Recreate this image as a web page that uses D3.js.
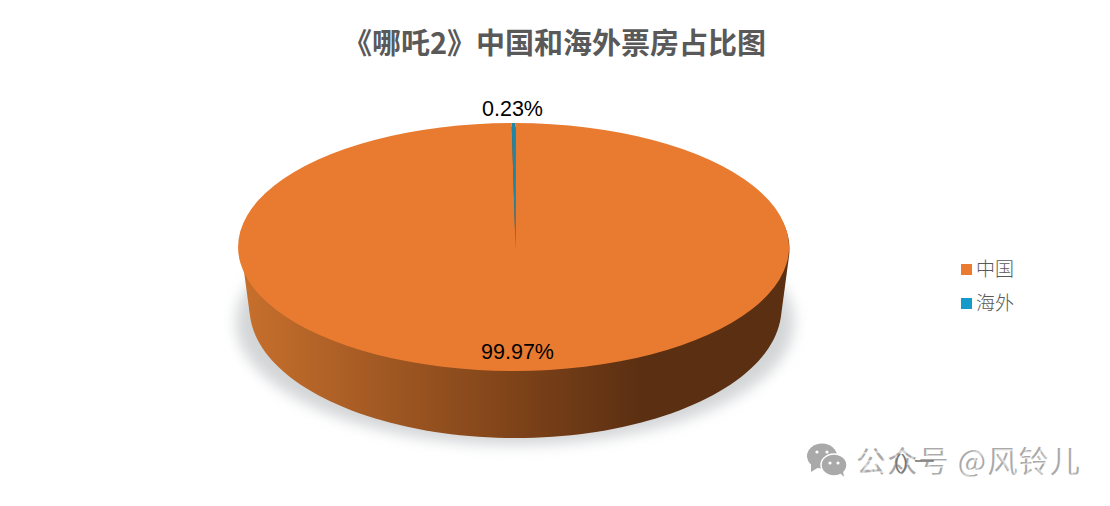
<!DOCTYPE html>
<html>
<head>
<meta charset="utf-8">
<script src="https://cdn.jsdelivr.net/npm/d3@7"></script>
<style>
  html, body { margin: 0; padding: 0; background: #fff; }
  svg { display: block; }
</style>
</head>
<body>
<div id="chart"></div>
<script>
const title = "《哪吒2》中国和海外票房占比图";
const categories = ["中国", "海外"];
const shares = [99.97, 0.23];
const shareLabels = ["99.97%", "0.23%"];
const colors = ["#e97b31", "#1f86a6"];
const legendColors = ["#ea7b31", "#159ac9"];

const width = 1110, height = 506;
const cjk = "'Noto Sans CJK SC', sans-serif";
const latin = "'Liberation Sans', Arial, sans-serif";

const svg = d3.select("#chart").append("svg")
    .attr("width", width)
    .attr("height", height);

const defs = svg.append("defs");

// side of the disc goes dark towards the right
const sideGrad = defs.append("linearGradient")
    .attr("id", "side")
    .attr("gradientUnits", "userSpaceOnUse")
    .attr("x1", 240).attr("x2", 790)
    .attr("y1", 0).attr("y2", 0);
sideGrad.append("stop").attr("offset", "0%").attr("stop-color", "#c8702d");
sideGrad.append("stop").attr("offset", "50%").attr("stop-color", "#7e4319");
sideGrad.append("stop").attr("offset", "73%").attr("stop-color", "#5b2f12");
sideGrad.append("stop").attr("offset", "100%").attr("stop-color", "#5b2f12");

defs.append("filter")
    .attr("id", "blur")
    .attr("x", "-10%").attr("y", "-10%")
    .attr("width", "120%").attr("height", "120%")
    .append("feGaussianBlur").attr("stdDeviation", 7);

// title
svg.append("text")
    .attr("x", 343).attr("y", 54)
    .attr("font-family", cjk)
    .attr("font-size", 29)
    .attr("font-weight", 700)
    .attr("fill", "#595959")
    .attr("textLength", 423)
    .text(title);

// top face and bottom rim of the disc
const top3d = {cx: 515.5, cy: 247, rx: 275.5, ry: 124};
const bottom3d = {cx: 515.5, cy: 308, rx: 266, ry: 130};

const rimPoints = e => d3.range(0, 360, 2).map(a => [
    e.cx + e.rx * Math.cos(a * Math.PI / 180),
    e.cy + e.ry * Math.sin(a * Math.PI / 180)
]);

svg.append("ellipse")
    .attr("cx", 515).attr("cy", 322)
    .attr("rx", 279).attr("ry", 123)
    .attr("fill", "#d3d5d7")
    .attr("filter", "url(#blur)");

// hull sits a little inside the top face so no dark line shows round it
const insetTop = {cx: top3d.cx, cy: top3d.cy + 2, rx: top3d.rx - 1.5, ry: top3d.ry - 2};
svg.append("path")
    .attr("d", "M" + d3.polygonHull(rimPoints(insetTop).concat(rimPoints(bottom3d))).join("L") + "Z")
    .attr("fill", "url(#side)");

const pie = d3.pie().sort(null)(shares);
const arc = d3.arc().innerRadius(0).outerRadius(1);

svg.append("g")
    .attr("transform", `translate(${top3d.cx},${top3d.cy}) scale(${top3d.rx},${top3d.ry})`)
    .selectAll("path")
    .data(pie)
    .join("path")
    .attr("d", arc)
    .attr("fill", (d, i) => colors[i]);

// data labels
const labelPos = [[517.5, 359], [512.5, 116]];
svg.append("g")
    .selectAll("text")
    .data(shareLabels)
    .join("text")
    .attr("x", (d, i) => labelPos[i][0])
    .attr("y", (d, i) => labelPos[i][1])
    .attr("text-anchor", "middle")
    .attr("font-family", latin)
    .attr("font-size", 21.5)
    .attr("fill", "#000")
    .text(d => d);

// legend
const legend = svg.append("g")
    .selectAll("g")
    .data(categories)
    .join("g")
    .attr("transform", (d, i) => `translate(961,${264 + i * 34})`);
legend.append("rect")
    .attr("width", 11).attr("height", 11)
    .attr("fill", (d, i) => legendColors[i]);
legend.append("text")
    .attr("x", 15).attr("y", 12)
    .attr("font-family", cjk)
    .attr("font-size", 19)
    .attr("font-weight", 300)
    .attr("fill", "#595959")
    .text(d => d);

// watermark
const mark = svg.append("g").attr("fill", "#a9a9a9");
mark.append("ellipse").attr("cx", 822).attr("cy", 456).attr("rx", 15).attr("ry", 12.5);
mark.append("path").attr("d", "M811,463L811,472L819,467Z");
mark.append("ellipse").attr("cx", 834).attr("cy", 465).attr("rx", 13).attr("ry", 11).attr("stroke", "#fff").attr("stroke-width", 1.5);
mark.append("path").attr("d", "M840,473L844,477L843,471Z");
mark.selectAll("circle")
    .data([[817, 452], [827, 452], [830, 463], [838, 463]])
    .join("circle")
    .attr("cx", d => d[0]).attr("cy", d => d[1]).attr("r", 1.6)
    .attr("fill", "#fff");

svg.append("text")
    .attr("x", 856).attr("y", 472)
    .attr("font-family", cjk)
    .attr("font-size", 30)
    .attr("fill", "#a9a9a9")
    .attr("textLength", 224)
    .text("公众号 @风铃儿");
// second, fainter pass of the watermark knocked out in white
svg.append("text")
    .attr("x", 858).attr("y", 473)
    .attr("font-family", cjk)
    .attr("font-size", 30)
    .attr("fill", "#fff")
    .attr("fill-opacity", 0.55)
    .attr("textLength", 224)
    .text("知乎号 @风铃儿");
svg.append("text")
    .attr("x", 894).attr("y", 469)
    .attr("font-family", latin)
    .attr("font-size", 21)
    .attr("fill", "#777")
    .text("() 一");
</script>
</body>
</html>
